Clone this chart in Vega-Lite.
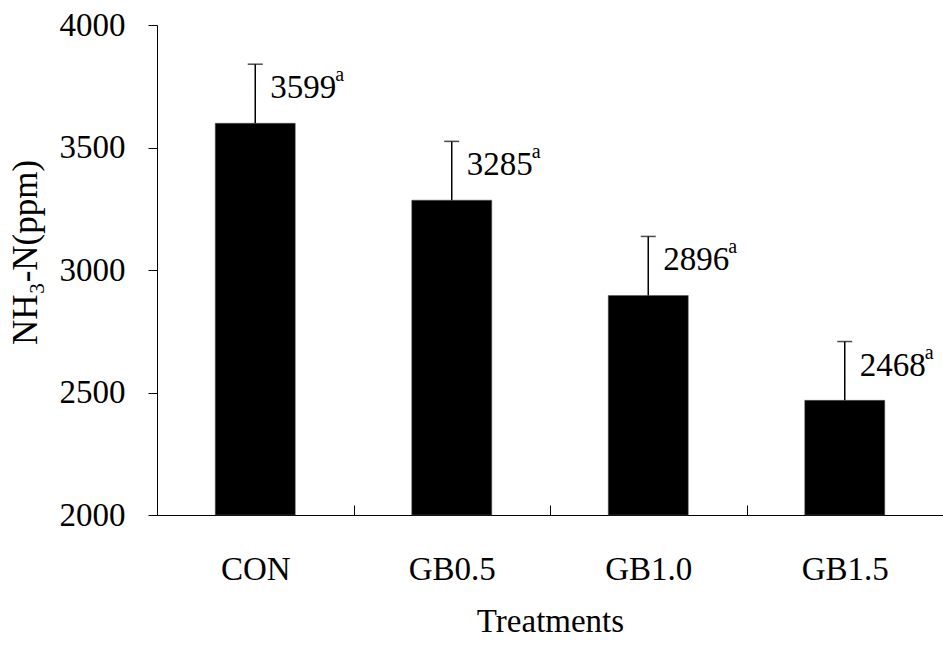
{
  "$schema": "https://vega.github.io/schema/vega-lite/v6.json",
  "width": 786,
  "height": 490,
  "autosize": {"type": "none"},
  "padding": {"left": 157, "top": 25, "right": 0, "bottom": 135},
  "background": "white",
  "config": {
    "view": {"stroke": null},
    "font": "Liberation Serif",
    "axis": {"grid": false, "domainColor": "#000", "tickColor": "#000", "labelColor": "#000", "titleColor": "#000", "labelFont": "Liberation Serif", "titleFont": "Liberation Serif", "titleFontWeight": "normal"}
  },
  "data": {
    "values": [
      {"trt": "CON", "mean": 3599, "sd": 241, "sig": "a"},
      {"trt": "GB0.5", "mean": 3285, "sd": 240, "sig": "a"},
      {"trt": "GB1.0", "mean": 2896, "sd": 241, "sig": "a"},
      {"trt": "GB1.5", "mean": 2468, "sd": 240, "sig": "a"}
    ]
  },
  "transform": [{"calculate": "datum.mean + datum.sd", "as": "upper"}],
  "encoding": {
    "x": {
      "field": "trt", "type": "nominal", "sort": null,
      "scale": {"paddingInner": 0, "paddingOuter": 0},
      "axis": {
        "title": "Treatments", "labelAngle": 0, "tickBand": "extent",
        "tickSize": -10, "labelPadding": 48, "labelFontSize": 33, "labelBaseline": "top",
        "titleFontSize": 33, "titleY": 106, "titleBaseline": "middle",
        "domainWidth": 1, "tickWidth": 1
      }
    }
  },
  "layer": [
    {
      "mark": {"type": "bar", "width": 80, "color": "#000", "stroke": "#555", "strokeWidth": 0.5},
      "encoding": {
        "y": {
          "field": "mean", "type": "quantitative",
          "scale": {"domain": [2000, 4000], "nice": false, "zero": false},
          "axis": {
            "title": "NH₃-N(ppm)", "values": [2000, 2500, 3000, 3500, 4000], "format": "d",
            "tickSize": 9, "labelPadding": 23, "labelFontSize": 33,
            "titleFontSize": 35, "titleX": -132, "titleY": 227, "titleBaseline": "middle", "titleAngle": -90,
            "domainWidth": 1, "tickWidth": 1
          }
        },
        "y2": {"datum": 2000}
      }
    },
    {
      "mark": {"type": "rule", "color": "#000", "strokeWidth": 1.5},
      "encoding": {"y": {"field": "mean", "type": "quantitative"}, "y2": {"field": "upper"}}
    },
    {
      "mark": {"type": "tick", "color": "#000", "thickness": 1.5, "size": 15},
      "encoding": {"y": {"field": "upper", "type": "quantitative"}}
    },
    {
      "mark": {"type": "text", "align": "left", "baseline": "alphabetic", "dx": 15, "dy": 34, "fontSize": 33, "font": "Liberation Serif", "color": "#000"},
      "encoding": {"y": {"field": "upper", "type": "quantitative"}, "text": {"field": "mean", "type": "quantitative", "format": "d"}}
    },
    {
      "mark": {"type": "text", "align": "left", "baseline": "alphabetic", "dx": 80, "dy": 17, "fontSize": 20, "font": "Liberation Serif", "color": "#000"},
      "encoding": {"y": {"field": "upper", "type": "quantitative"}, "text": {"field": "sig"}}
    }
  ]
}
